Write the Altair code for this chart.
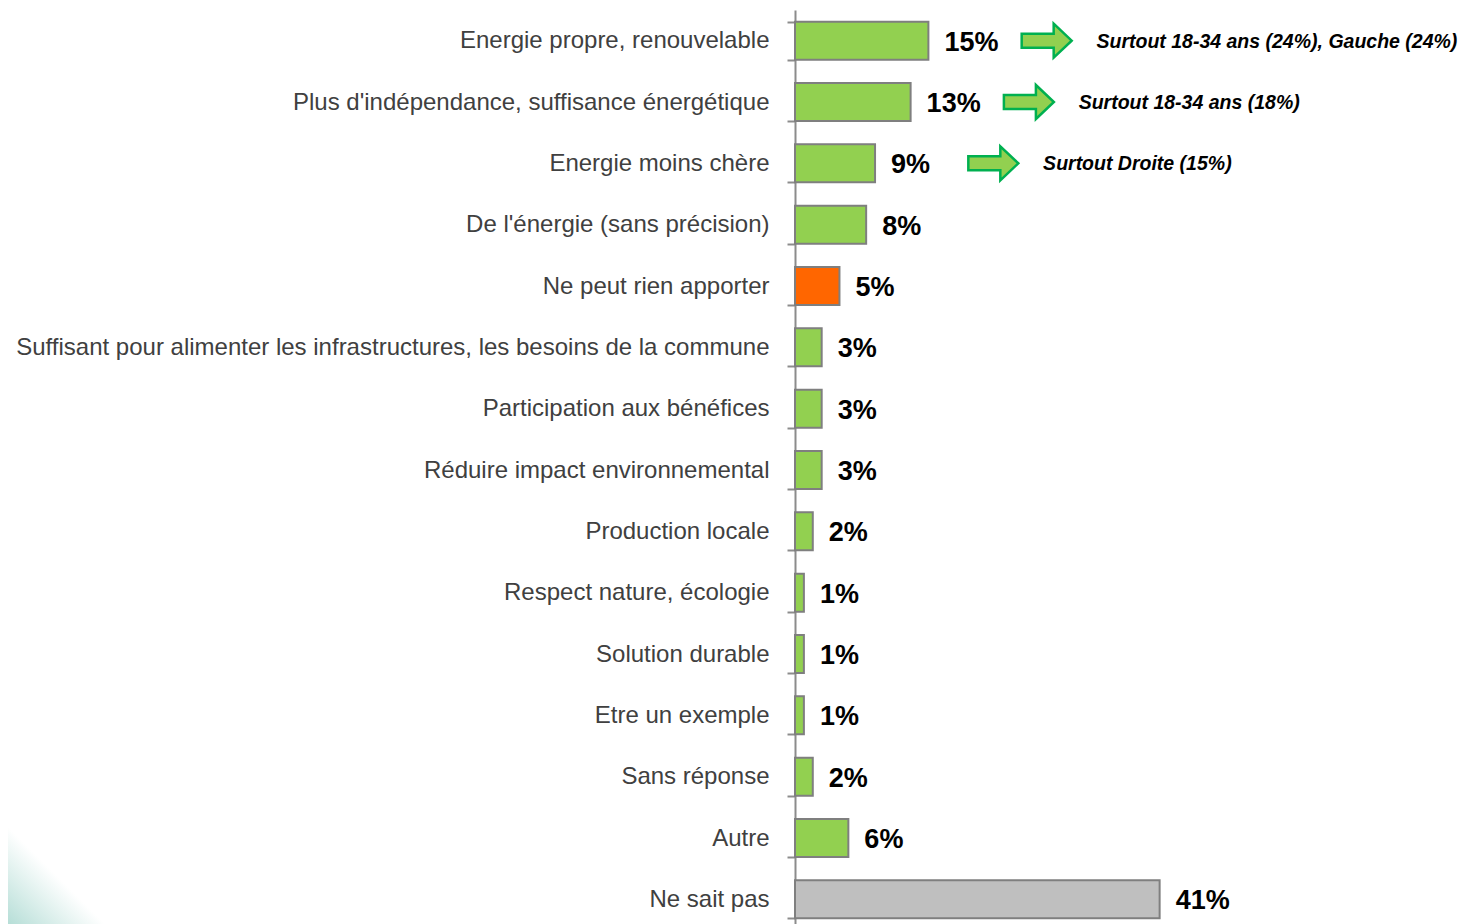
import altair as alt
import pandas as pd

categories = [
    "Energie propre, renouvelable",
    "Plus d'indépendance, suffisance énergétique",
    "Energie moins chère",
    "De l'énergie (sans précision)",
    "Ne peut rien apporter",
    "Suffisant pour alimenter les infrastructures, les besoins de la commune",
    "Participation aux bénéfices",
    "Réduire impact environnemental",
    "Production locale",
    "Respect nature, écologie",
    "Solution durable",
    "Etre un exemple",
    "Sans réponse",
    "Autre",
    "Ne sait pas",
]
values = [15, 13, 9, 8, 5, 3, 3, 3, 2, 1, 1, 1, 2, 6, 41]
groups = ["pos", "pos", "pos", "pos", "neg", "pos", "pos", "pos", "pos", "pos",
          "pos", "pos", "pos", "pos", "nsp"]

note_categories = [
    "Energie propre, renouvelable",
    "Plus d'indépendance, suffisance énergétique",
    "Energie moins chère",
]
note_values = [15, 13, 9]
note_texts = [
    "Surtout 18-34 ans (24%), Gauche (24%)",
    "Surtout 18-34 ans (18%)",
    "Surtout Droite (15%)",
]

df = pd.DataFrame({"cat": categories, "val": values, "grp": groups})
df["lab"] = df["val"].astype(str) + "%"
notes = pd.DataFrame({"cat": note_categories, "val": note_values, "txt": note_texts})

FONT = "Liberation Sans, Arial, sans-serif"

y_enc = alt.Y(
    "cat:N",
    sort=categories,
    scale=alt.Scale(range=[0, 920], paddingInner=0.38, paddingOuter=0.19),
    axis=alt.Axis(
        title=None,
        tickBand="extent",
        domainColor="#8c8c8c",
        domainWidth=2,
        tickColor="#8c8c8c",
        tickWidth=2,
        tickSize=8,
        labelFont=FONT,
        labelFontSize=24,
        labelColor="#404040",
        labelPadding=18,
        labelLimit=800,
    ),
)
x_scale = alt.Scale(domain=[0, 75], nice=False)

# decorative soft teal corner (bottom-left of the slide)
corner = alt.Chart(pd.DataFrame({"k": [0]})).mark_rect(
    fill=alt.LinearGradient(
        gradient="linear",
        stops=[
            alt.GradientStop(color="#b6ded7", offset=0),
            alt.GradientStop(color="#ffffff", offset=0.5),
        ],
        x1=0, y1=1, x2=1, y2=0,
    )
).encode(
    x=alt.value(-787), x2=alt.value(-690), y=alt.value(817), y2=alt.value(914)
)

bars = alt.Chart(df).mark_bar(stroke="#7f7f7f", strokeWidth=2).encode(
    y=y_enc,
    x=alt.X("val:Q", scale=x_scale, axis=None),
    color=alt.Color(
        "grp:N",
        scale=alt.Scale(domain=["pos", "neg", "nsp"], range=["#92D050", "#FF6600", "#BFBFBF"]),
        legend=None,
    ),
)

labels = alt.Chart(df).mark_text(
    align="left", baseline="middle", dx=16, dy=2, font=FONT, fontSize=27, fontWeight="bold", color="#000000"
).encode(
    y=alt.Y("cat:N", sort=categories),
    x=alt.X("val:Q", scale=x_scale),
    text="lab:N",
)

arrow_path = "M-1,-0.28 L0.28,-0.28 L0.28,-0.68 L1,0 L0.28,0.68 L0.28,0.28 L-1,0.28 Z"

arrows = alt.Chart(notes).transform_calculate(ax="datum.val + 13.3").mark_point(
    shape=arrow_path, size=2500, filled=True, fill="#92D050", stroke="#00B050", strokeWidth=2.5, opacity=1
).encode(
    y=alt.Y("cat:N", sort=categories),
    x=alt.X("ax:Q", scale=x_scale),
)

note_text = alt.Chart(notes).transform_calculate(tx="datum.val + 18.9").mark_text(
    align="left", baseline="middle", font=FONT, fontSize=19.5, fontWeight="bold", fontStyle="italic", color="#000000", dy=1
).encode(
    y=alt.Y("cat:N", sort=categories),
    x=alt.X("tx:Q", scale=x_scale),
    text="txt:N",
)

chart = alt.layer(corner, bars, labels, arrows, note_text).properties(
    width=667,
    height=914,
    autosize=alt.AutoSizeParams(type="none"),
    padding={"left": 787, "top": 2, "right": 0, "bottom": 0},
).configure_view(stroke=None)

chart.save("out.html", embed_options={"renderer": "svg", "actions": False})
